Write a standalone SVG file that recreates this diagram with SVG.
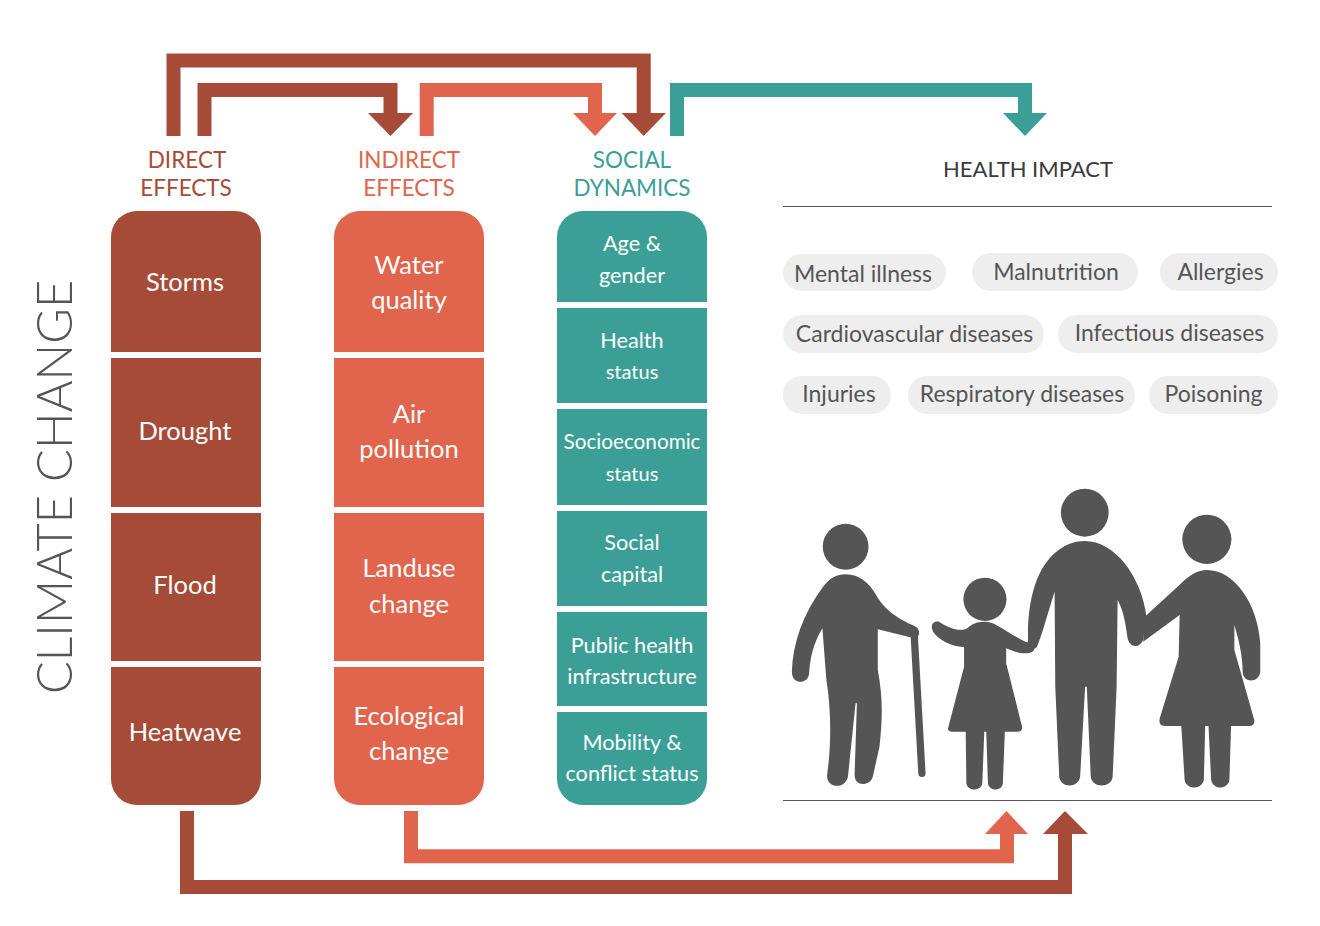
<svg xmlns="http://www.w3.org/2000/svg" width="1320" height="926" viewBox="0 0 1320 926">
<style>
text{font-family:"Lato","Liberation Sans",sans-serif;text-anchor:middle}
.b{fill:#a64b38}.c{fill:#e0654c}.t{fill:#3b9f97}
.cell{fill:#fff;font-size:25.500px}.small{font-size:21.700px}
.head{font-size:22.500px}
.pill{fill:#eeeeee}.pt{fill:#555;font-size:23px}
.ln{fill:none;stroke-width:14;stroke-linejoin:miter}
.person{fill:#555}
</style>
<rect width="1320" height="926" fill="#fff"/>
<text id="climate-change" transform="translate(72 487) rotate(-90)" font-size="48.600" font-weight="300" fill="#555">CLIMATE CHANGE</text>
<g id="connectors">
<path class="ln" stroke="#a64b38" d="M173.500 136V60.500H643.700V116"/>
<polygon class="b" points="621.700,113 666,113 643.700,136"/>
<path class="ln" stroke="#a64b38" d="M204.500 136V90H390.500V116"/>
<polygon class="b" points="368,113 413,113 390.500,136"/>
<path class="ln" stroke="#e0654c" d="M426.700 136V90H595V116"/>
<polygon class="c" points="573,113 617,113 595,136"/>
<path class="ln" stroke="#3b9f97" d="M677 136V90H1025V116"/>
<polygon class="t" points="1003,113 1047,113 1025,136"/>
<path class="ln" stroke="#a64b38" d="M187 811V887H1065V830"/>
<polygon class="b" points="1043,834 1088,834 1065,811"/>
<path class="ln" stroke="#e0654c" d="M411 811V856.300H1007V830"/>
<polygon class="c" points="985,834 1028,834 1006.500,811"/>
</g>
<g id="direct-effects">
<text class="b head" x="187" y="168">DIRECT</text><text class="b head" x="186" y="196">EFFECTS</text>
<path class="b" d="M111 352V237a26 26 0 0 1 26-26h98a26 26 0 0 1 26 26V352Z"/>
<rect class="b" x="111" y="358" width="150" height="149"/>
<rect class="b" x="111" y="513" width="150" height="148"/>
<path class="b" d="M111 667H261V779a26 26 0 0 1-26 26h-98a26 26 0 0 1-26-26Z"/>
<text class="cell" x="185" y="291">Storms</text>
<text class="cell" x="185" y="440">Drought</text>
<text class="cell" x="185" y="594">Flood</text>
<text class="cell" x="185" y="741">Heatwave</text>
</g>
<g id="indirect-effects">
<text class="c head" x="409" y="168">INDIRECT</text><text class="c head" x="409" y="196">EFFECTS</text>
<path class="c" d="M334 352V237a26 26 0 0 1 26-26h98a26 26 0 0 1 26 26V352Z"/>
<rect class="c" x="334" y="358" width="150" height="149"/>
<rect class="c" x="334" y="513" width="150" height="148"/>
<path class="c" d="M334 667H484V779a26 26 0 0 1-26 26h-98a26 26 0 0 1-26-26Z"/>
<text class="cell" x="409" y="274">Water</text><text class="cell" x="409" y="309">quality</text>
<text class="cell" x="409" y="423">Air</text><text class="cell" x="409" y="458">pollution</text>
<text class="cell" x="409" y="577">Landuse</text><text class="cell" x="409" y="613">change</text>
<text class="cell" x="409" y="725">Ecological</text><text class="cell" x="409" y="760">change</text>
</g>
<g id="social-dynamics">
<text class="t head" x="632" y="168">SOCIAL</text><text class="t head" x="632" y="196">DYNAMICS</text>
<path class="t" d="M557 302V237a26 26 0 0 1 26-26h98a26 26 0 0 1 26 26V302Z"/>
<rect class="t" x="557" y="308" width="150" height="95"/>
<rect class="t" x="557" y="409" width="150" height="96"/>
<rect class="t" x="557" y="511" width="150" height="95"/>
<rect class="t" x="557" y="612" width="150" height="94"/>
<path class="t" d="M557 712H707V779a26 26 0 0 1-26 26h-98a26 26 0 0 1-26-26Z"/>
<text class="cell small" x="632" y="251">Age &amp;</text><text class="cell small" x="632" y="283">gender</text>
<text class="cell small" x="632" y="348">Health</text><text class="cell small" x="632" y="379" style="font-size:20px">status</text>
<text class="cell small" x="632" y="449" textLength="137" lengthAdjust="spacingAndGlyphs">Socioeconomic</text><text class="cell small" x="632" y="481" style="font-size:20px">status</text>
<text class="cell small" x="632" y="550">Social</text><text class="cell small" x="632" y="582">capital</text>
<text class="cell small" x="632" y="653">Public health</text><text class="cell small" x="632" y="684">infrastructure</text>
<text class="cell small" x="632" y="750">Mobility &amp;</text><text class="cell small" x="632" y="781">conflict status</text>
</g>
<g id="health-impact">
<text class="head" x="1028" y="177" fill="#3a3a3a" style="font-size:22px">HEALTH IMPACT</text>
<line x1="783" y1="206.500" x2="1272" y2="206.500" stroke="#555" stroke-width="1"/>
<line x1="783" y1="800.500" x2="1272" y2="800.500" stroke="#555" stroke-width="1"/>
</g>
<g id="pill-mental"><rect class="pill" x="783" y="254" width="163" height="37" rx="18.500"/><text class="pt" x="863" y="281.500">Mental illness</text></g>
<g id="pill-malnutrition"><rect class="pill" x="972" y="253" width="166" height="38" rx="19"/><text class="pt" x="1056" y="280">Malnutrition</text></g>
<g id="pill-allergies"><rect class="pill" x="1160" y="253" width="118" height="38" rx="19"/><text class="pt" x="1220.500" y="280">Allergies</text></g>
<g id="pill-cardio"><rect class="pill" x="783" y="315" width="261" height="38" rx="19"/><text class="pt" x="914.500" y="342">Cardiovascular diseases</text></g>
<g id="pill-infectious"><rect class="pill" x="1058" y="315" width="220" height="38" rx="19"/><text class="pt" x="1169.500" y="341">Infectious diseases</text></g>
<g id="pill-injuries"><rect class="pill" x="783" y="376" width="108" height="38" rx="19"/><text class="pt" x="839" y="402">Injuries</text></g>
<g id="pill-respiratory"><rect class="pill" x="908" y="376" width="227" height="38" rx="19"/><text class="pt" x="1022" y="402">Respiratory diseases</text></g>
<g id="pill-poisoning"><rect class="pill" x="1149" y="376" width="129" height="38" rx="19"/><text class="pt" x="1213.500" y="402">Poisoning</text></g>
<g id="people" class="person" transform="translate(770 470) scale(.3317 .3333)">
<g id="elder"><circle cx="228" cy="230" r="69"/>
<path d="M228 313C270 313 300 340 320 375C340 410 370 440 440 470C455 480 452 505 435 505L325 478L325 600C340 680 340 740 330 830L310 920C300 950 255 950 255 915L262 700H258L235 920C225 960 170 955 172 915C185 830 185 720 170 630L158 475C130 520 120 570 118 610C115 645 65 645 66 605C68 520 100 430 160 350C180 325 200 313 228 313Z"/>
<path d="M435 500L458 910" stroke="#555" stroke-width="22" stroke-linecap="round" fill="none"/></g>
<g id="child"><circle cx="648" cy="388" r="65"/>
<path d="M648 455C680 455 700 480 770 515C800 520 810 550 770 550C745 550 725 540 712 535V580L760 770Q762 785 745 785H708L702 940C700 965 660 965 657 940L652 785H646L640 940C636 965 595 965 592 940L590 785H550Q532 785 538 770L585 590V532C560 530 520 520 495 490C480 470 490 450 510 455C540 475 580 490 600 470C615 458 630 455 648 455Z"/></g>
<g id="father"><circle cx="949" cy="128" r="72"/>
<path d="M949 213C1040 213 1120 320 1135 440L1125 510C1115 535 1085 535 1078 505C1072 460 1065 420 1048 390L1045 650L1033 920C1030 955 970 955 967 920L955 650H950L935 920C930 955 875 955 872 920L860 650L858 365C840 420 825 480 805 530C795 545 770 530 778 510C775 400 800 290 870 240C895 222 920 213 949 213Z"/></g>
<g id="mother"><circle cx="1317" cy="208" r="74"/>
<path d="M1317 300C1400 300 1470 400 1478 520V605C1475 640 1425 640 1425 605C1425 550 1410 500 1400 465V540L1460 750Q1462 768 1445 768H1390L1385 930C1380 960 1335 960 1330 930L1322 768H1312L1308 930C1302 960 1255 960 1250 930L1240 768H1190Q1170 768 1175 745L1232 560L1235 435L1125 515L1130 440L1240 340C1265 315 1290 300 1317 300Z"/></g>
</g>
</svg>
